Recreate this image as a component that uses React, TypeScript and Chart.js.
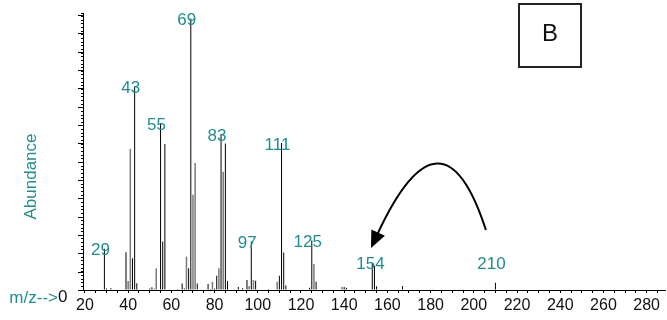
import React, { useEffect, useRef } from 'react';
import { Chart, registerables } from 'chart.js';

Chart.register(...registerables);

// Mass spectrum: m/z positions and abundances (counts)
const darkMz = [29, 30, 32, 39, 42, 43, 44, 50, 51, 55, 56, 57, 63, 65, 66, 68, 69, 72, 77, 78, 80, 81, 83, 85, 86, 91, 93, 95, 97, 99, 105, 110, 111, 112, 113, 124, 125, 127, 140, 141, 153, 154, 155, 167, 181, 195, 210];
const darkAbundance = [225000, 8000, 10000, 206000, 173000, 1108000, 37000, 8000, 15000, 911000, 264000, 796000, 6000, 35000, 8000, 118000, 1480000, 35000, 33000, 6000, 8000, 77000, 850000, 798000, 49000, 16000, 10000, 55000, 264000, 51000, 5000, 78000, 801000, 204000, 25000, 12000, 270000, 45000, 16000, 12000, 146000, 131000, 20000, 22000, 4000, 4000, 40000];

const lightMz = [40, 41, 52, 53, 67, 70, 71, 79, 82, 84, 96, 98, 109, 126, 139];
const lightAbundance = [49000, 770000, 8000, 118000, 182000, 519000, 692000, 45000, 118000, 645000, 22000, 55000, 45000, 142000, 16000];

// Peaks annotated with their m/z
const labeledMz = [29, 43, 55, 69, 83, 97, 111, 125, 154, 210];

// Axis settings
const xMin = 19.1;
const xMax = 288.5;
const xMinorStep = 5;
const xLabelStep = 20;
const yMax = 1510000;
const yMinorStep = 20000;
const yMajorStep = 100000;

// Curved arrow, anchored in data space (m/z, abundance)
const arrowStart = { mz: 205.6, ab: 327000 };
const arrowApex = { mz: 183, ab: 692000 };
const arrowTip = { mz: 152.4, ab: 229000 };

const TEAL = '#1f8e8e';
const FONT = '"Liberation Sans", Arial, sans-serif';

function abundanceAt(mz: number): number {
  const i = darkMz.indexOf(mz);
  if (i >= 0) return darkAbundance[i];
  const j = lightMz.indexOf(mz);
  return j >= 0 ? lightAbundance[j] : 0;
}

const decorations = {
  id: 'decorations',
  afterDraw(chart: any) {
    const { ctx, chartArea, scales } = chart;
    const x = scales.x;
    const y = scales.y;
    ctx.save();

    // longer marks at major abundance steps
    ctx.strokeStyle = '#000';
    ctx.lineWidth = 1;
    for (let v = 0; v <= yMax; v += yMajorStep) {
      const py = Math.round(y.getPixelForValue(v)) + 0.5;
      ctx.beginPath();
      ctx.moveTo(chartArea.left - 5, py);
      ctx.lineTo(chartArea.left, py);
      ctx.stroke();
    }

    // axis titles
    ctx.font = `17px ${FONT}`;
    ctx.fillStyle = TEAL;
    ctx.textBaseline = 'middle';
    ctx.save();
    ctx.translate(31, (chartArea.top + chartArea.bottom) / 2 + 25);
    ctx.rotate(-Math.PI / 2);
    ctx.textAlign = 'center';
    ctx.fillText('Abundance', 0, 0);
    ctx.restore();

    ctx.textAlign = 'right';
    ctx.fillText('m/z-->', 58, chartArea.bottom + 8);
    ctx.fillStyle = '#111';
    ctx.textAlign = 'left';
    ctx.fillText('0', 58, chartArea.bottom + 7);

    // peak labels
    ctx.fillStyle = TEAL;
    ctx.textAlign = 'center';
    for (const mz of labeledMz) {
      const top = y.getPixelForValue(abundanceAt(mz));
      const py = Math.min(top + 2, chartArea.bottom - 26);
      ctx.fillText(String(mz), x.getPixelForValue(mz) - 4, py);
    }

    // curved arrow
    const px = (p: { mz: number; ab: number }) => ({ x: x.getPixelForValue(p.mz), y: y.getPixelForValue(p.ab) });
    const S = px(arrowStart);
    const A = px(arrowApex);
    const T = px(arrowTip);
    const headLen = 17;
    const headHalf = 7.5;
    let E = { x: T.x, y: T.y };
    let C = { x: A.x, y: A.y };
    let dir = { x: 0, y: 1 };
    for (let i = 0; i < 6; i++) {
      C = { x: 2 * A.x - 0.5 * (S.x + E.x), y: 2 * A.y - 0.5 * (S.y + E.y) };
      const dx = T.x - C.x;
      const dy = T.y - C.y;
      const len = Math.hypot(dx, dy);
      dir = { x: dx / len, y: dy / len };
      E = { x: T.x - dir.x * headLen, y: T.y - dir.y * headLen };
    }
    ctx.strokeStyle = '#000';
    ctx.lineWidth = 2;
    ctx.beginPath();
    ctx.moveTo(S.x, S.y);
    ctx.quadraticCurveTo(C.x, C.y, E.x + dir.x * 2, E.y + dir.y * 2);
    ctx.stroke();
    ctx.fillStyle = '#000';
    ctx.beginPath();
    ctx.moveTo(T.x, T.y);
    ctx.lineTo(E.x - dir.y * headHalf, E.y + dir.x * headHalf);
    ctx.lineTo(E.x + dir.y * headHalf, E.y - dir.x * headHalf);
    ctx.closePath();
    ctx.fill();

    // panel tag
    ctx.strokeStyle = '#222';
    ctx.lineWidth = 2;
    ctx.strokeRect(519, 4, 62, 63);
    ctx.fillStyle = '#111';
    ctx.font = `24px ${FONT}`;
    ctx.textAlign = 'center';
    ctx.textBaseline = 'middle';
    ctx.fillText('B', 550, 34);

    ctx.restore();
  },
};

export default function App() {
  const canvasRef = useRef<HTMLCanvasElement | null>(null);

  useEffect(() => {
    const canvas = canvasRef.current;
    if (!canvas) return;
    Chart.defaults.font.family = FONT;

    const chart = new Chart(canvas, {
      type: 'bar',
      data: {
        datasets: [
          {
            label: 'dark',
            data: darkMz.map((mz, i) => ({ x: mz, y: darkAbundance[i] })),
            backgroundColor: '#000',
            maxBarThickness: 1,
            grouped: false,
          },
          {
            label: 'light',
            data: lightMz.map((mz, i) => ({ x: mz, y: lightAbundance[i] })),
            backgroundColor: '#7d7d7d',
            maxBarThickness: 2,
            grouped: false,
          },
        ],
      },
      options: {
        responsive: false,
        animation: false,
        devicePixelRatio: 1,
        layout: { padding: { top: 13, right: 2, left: 0, bottom: 0 } },
        plugins: { legend: { display: false }, tooltip: { enabled: false } },
        scales: {
          x: {
            type: 'linear',
            min: xMin,
            max: xMax,
            offset: false,
            afterBuildTicks: (scale: any) => {
              const ticks = [];
              for (let v = 20; v <= xMax; v += xMinorStep) ticks.push({ value: v });
              scale.ticks = ticks;
            },
            afterFit: (scale: any) => {
              scale.height = 30;
              scale.paddingLeft = 0;
              scale.paddingRight = 0;
            },
            ticks: {
              autoSkip: false,
              maxRotation: 0,
              includeBounds: false,
              padding: 3,
              color: '#111',
              font: { size: 16, family: FONT },
              callback: (v: any) => (Number(v) % xLabelStep === 0 ? String(v) : ''),
            },
            grid: { offset: false, drawOnChartArea: false, tickLength: 3, tickColor: '#000' },
            border: { display: true, color: '#000', width: 1 },
          },
          y: {
            type: 'linear',
            min: 0,
            max: yMax,
            afterFit: (scale: any) => {
              scale.width = 83;
              scale.paddingTop = 0;
              scale.paddingBottom = 0;
            },
            ticks: { display: false, stepSize: yMinorStep },
            grid: { drawOnChartArea: false, tickLength: 2, tickColor: '#000' },
            border: { display: true, color: '#000', width: 1 },
          },
        },
      },
      plugins: [decorations],
    });

    return () => chart.destroy();
  }, []);

  return (
    <div style={{ position: 'fixed', left: 0, top: 0, width: 667, height: 320, background: '#fff' }}>
      <canvas ref={canvasRef} width={667} height={320} />
    </div>
  );
}
